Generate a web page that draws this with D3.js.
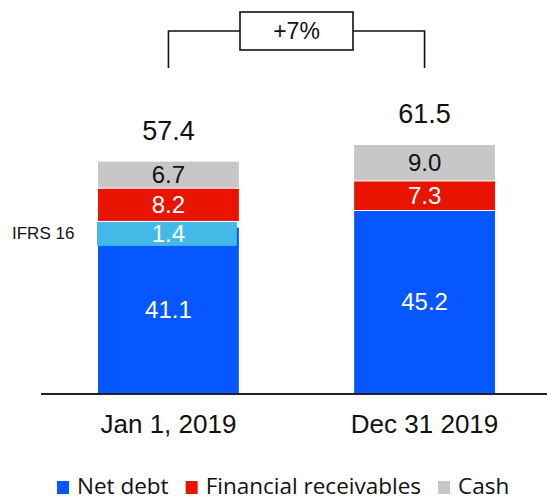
<!DOCTYPE html>
<html>
<head>
<meta charset="utf-8">
<script src="https://cdn.jsdelivr.net/npm/d3@7"></script>
<style>
  body { margin: 0; background: #fff; }
  text { font-family: "Liberation Sans", Arial, sans-serif; }
  .legend text { font-family: "Open Sans", "Noto Sans", sans-serif; }
</style>
</head>
<body>
<svg id="chart" width="547" height="500"></svg>
<script>
// data
const categories = ["Jan 1, 2019", "Dec 31 2019"];
const netDebt = [41.1, 45.2];
const ifrs16 = [1.4, 0];
const financialReceivables = [8.2, 7.3];
const cash = [6.7, 9.0];
const totals = [57.4, 61.5];

const keys = ["netDebt", "ifrs16", "financial", "cash"];
const legendItems = [
  { key: "netDebt", label: "Net debt" },
  { key: "financial", label: "Financial receivables" },
  { key: "cash", label: "Cash" }
];

const colors = {
  netDebt: "#0657ff",
  ifrs16: "#42b9e6",
  financial: "#e81400",
  cash: "#c7c7c7"
};
const labelColors = { netDebt: "#fff", ifrs16: "#fff", financial: "#fff", cash: "#111" };

const rows = categories.map((c, i) => ({
  category: c,
  netDebt: netDebt[i],
  ifrs16: ifrs16[i],
  financial: financialReceivables[i],
  cash: cash[i],
  total: totals[i]
}));

const svg = d3.select("#chart");

const x = d3.scaleBand()
  .domain(categories)
  .range([98, 495])
  .paddingInner(0.45)
  .paddingOuter(0);

const y = d3.scaleLinear()
  .domain([0, 61.5])
  .range([393, 144]);

const minBand = 25; // thin segments get at least this height so their label fits

const series = d3.stack().keys(keys)(rows);

const g = svg.append("g");

series.forEach(s => {
  const key = s.key;
  s.forEach(d => {
    const v = d[1] - d[0];
    if (v <= 0) return;
    let top = y(d[1]), bottom = y(d[0]);
    if (key === "ifrs16") bottom = Math.max(bottom, top + minBand);
    const cx = x(d.data.category) + x.bandwidth() / 2;

    g.append("rect")
      .attr("x", x(d.data.category) + (key === "ifrs16" ? -1 : 0))
      .attr("width", x.bandwidth() + (key === "ifrs16" ? -1 : 0))
      .attr("y", top + 1)
      .attr("height", bottom - top - 1)
      .attr("fill", colors[key]);

    g.append("text")
      .attr("x", cx)
      .attr("y", (top + bottom) / 2)
      .attr("dy", "0.35em")
      .attr("text-anchor", "middle")
      .attr("font-size", 24)
      .attr("fill", labelColors[key])
      .text(d3.format(".1f")(v));

    if (key === "ifrs16") {
      g.append("text")
        .attr("x", 12)
        .attr("y", (top + bottom) / 2)
        .attr("dy", "0.35em")
        .attr("font-size", 17)
        .attr("fill", "#111")
        .text("IFRS 16");
    }
  });
});

// totals
g.selectAll(".total")
  .data(rows)
  .join("text")
  .attr("class", "total")
  .attr("x", d => x(d.category) + x.bandwidth() / 2)
  .attr("y", d => y(d.total) - 21)
  .attr("text-anchor", "middle")
  .attr("font-size", 27)
  .attr("fill", "#111")
  .text(d => d3.format(".1f")(d.total));

// baseline + category labels
svg.append("line")
  .attr("x1", 41).attr("x2", 547)
  .attr("y1", y(0) + 1).attr("y2", y(0) + 1)
  .attr("stroke", "#222").attr("stroke-width", 2);

svg.selectAll(".cat")
  .data(categories)
  .join("text")
  .attr("class", "cat")
  .attr("x", d => x(d) + x.bandwidth() / 2)
  .attr("y", 433)
  .attr("text-anchor", "middle")
  .attr("font-size", 26)
  .attr("fill", "#111")
  .text(d => d);

// growth bracket
const x1 = x(categories[0]) + x.bandwidth() / 2;
const x2 = x(categories[1]) + x.bandwidth() / 2;
const mid = (x1 + x2) / 2;
const boxW = 113, boxTop = 12, boxH = 38, yBr = 31, yBrEnd = 68;
const change = totals[1] / totals[0] - 1;

const br = svg.append("g").attr("fill", "none").attr("stroke", "#111").attr("stroke-width", 1.6);
br.append("path")
  .attr("d", `M${x1},${yBrEnd}V${yBr}H${mid - boxW / 2}`);
br.append("path")
  .attr("d", `M${x2},${yBrEnd}V${yBr}H${mid + boxW / 2}`);
br.append("rect")
  .attr("x", mid - boxW / 2).attr("y", boxTop)
  .attr("width", boxW).attr("height", boxH)
  .attr("fill", "#fff");

svg.append("text")
  .attr("x", mid)
  .attr("y", boxTop + boxH / 2)
  .attr("dy", "0.35em")
  .attr("text-anchor", "middle")
  .attr("font-size", 23)
  .attr("fill", "#111")
  .text((change >= 0 ? "+" : "") + d3.format(".0%")(change));

// legend
const legend = svg.append("g").attr("class", "legend");
let lx = 57;
legendItems.forEach(item => {
  legend.append("rect")
    .attr("x", lx).attr("y", 481)
    .attr("width", 12).attr("height", 13)
    .attr("fill", colors[item.key]);
  const t = legend.append("text")
    .attr("x", lx + 20)
    .attr("y", 494)
    .attr("font-size", 22.5)
    .attr("fill", "#111")
    .text(item.label);
  lx += 20 + t.node().getComputedTextLength() + 17;
});
</script>
</body>
</html>
